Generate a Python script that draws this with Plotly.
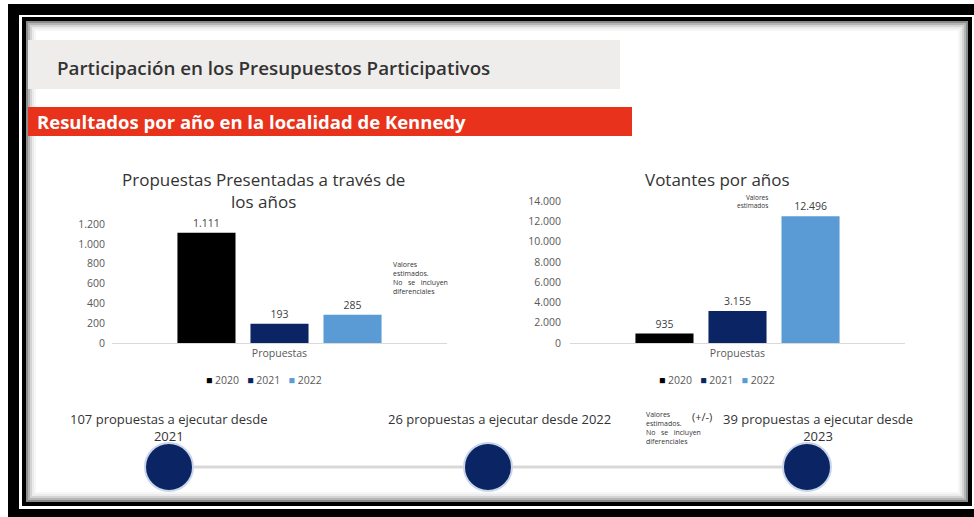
import plotly.graph_objects as go

# Datos
CATEGORIA = ['Propuestas']
ANIOS = ['2020', '2021', '2022']
PROPUESTAS = [1111, 193, 285]
VOTANTES = [935, 3155, 12496]
TIMELINE_ANIOS = ['2021', '2022', '2023']
TIMELINE_PROPUESTAS = [107, 26, 39]

COLORES = ['#000000', '#0b2463', '#5b9bd5']
TEXT_DARK = '#333333'
TEXT_AXIS = '#595959'
FONT = 'Open Sans'

W, H = 974, 517


def px(x):
    return x / W


def py(y):
    return 1 - y / H


def rect(x0, y0, x1, y1, **kw):
    return dict(type='rect', xref='paper', yref='paper', layer='below',
                x0=px(x0), x1=px(x1), y0=py(y1), y1=py(y0), **kw)


fig = go.Figure()

# --- Barras: propuestas presentadas ---
for anio, val, col in zip(ANIOS, PROPUESTAS, COLORES):
    fig.add_trace(go.Bar(
        x=CATEGORIA, y=[val], name=anio, marker_color=col, showlegend=False,
        texttemplate='%{y:,}', textposition='outside', cliponaxis=False,
        textfont=dict(size=10.5, color='#404040'),
        xaxis='x', yaxis='y',
    ))

# --- Barras: votantes ---
for anio, val, col in zip(ANIOS, VOTANTES, COLORES):
    fig.add_trace(go.Bar(
        x=CATEGORIA, y=[val], name=anio, marker_color=col, showlegend=False,
        texttemplate='%{y:,}', textposition='outside', cliponaxis=False,
        textfont=dict(size=10.5, color='#404040'),
        xaxis='x2', yaxis='y2',
    ))

# --- Línea de tiempo ---
fig.add_trace(go.Scatter(
    x=TIMELINE_ANIOS, y=[0.5] * len(TIMELINE_ANIOS),
    mode='lines+markers', showlegend=False, cliponaxis=False,
    line=dict(color='#d9d9d9', width=3),
    marker=dict(size=48, color='#0b2463', line=dict(color='#c9d6ea', width=2)),
    xaxis='x3', yaxis='y3', hoverinfo='skip',
))

axis_common = dict(showgrid=False, zeroline=False, ticks='', automargin=False,
                   tickfont=dict(size=10.5, color=TEXT_AXIS, family=FONT))

fig.update_layout(
    template='none',
    width=W, height=H, autosize=False,
    margin=dict(l=0, r=0, t=0, b=0, pad=0),
    paper_bgcolor='white', plot_bgcolor='rgba(0,0,0,0)',
    font=dict(family=FONT, color=TEXT_DARK),
    separators=',.',
    showlegend=False,
    barmode='group', bargap=0.346, bargroupgap=0.205,
    xaxis=dict(domain=[px(112), px(447)], anchor='y', showline=True, range=[-0.5, 0.5],
               linecolor='#d9d9d9', linewidth=1, **axis_common),
    yaxis=dict(domain=[py(343), py(224)], anchor='x', range=[0, 1200],
               dtick=200, tickformat=',', ticklabelstandoff=6, **axis_common),
    xaxis2=dict(domain=[px(570), px(905)], anchor='y2', showline=True, range=[-0.5, 0.5],
                linecolor='#d9d9d9', linewidth=1, **axis_common),
    yaxis2=dict(domain=[py(343), py(201)], anchor='x2', range=[0, 14000],
                dtick=2000, tickformat=',', ticklabelstandoff=8, **axis_common),
    xaxis3=dict(domain=[px(169), px(807)], anchor='y3', range=[0, 2],
                visible=False, type='category', automargin=False),
    yaxis3=dict(domain=[py(490), py(444)], anchor='x3', range=[0, 1],
                visible=False, automargin=False),
)

# --- Marco y fondos ---
shapes = [
    rect(8, 4, 980, 530, fillcolor='black', line_width=0),
    rect(19, 15, 980, 509, fillcolor='white', line_width=0),
    rect(24, 19, 970, 504, fillcolor='rgba(0,0,0,0)', line=dict(color='black', width=4)),
    rect(27, 22, 967, 501, fillcolor='rgba(0,0,0,0)', line=dict(color='#8c8c8c', width=2)),
    rect(29, 24, 965, 499, fillcolor='rgba(0,0,0,0)', line=dict(color='#b5b5b5', width=2)),
    rect(31, 26, 963, 497, fillcolor='rgba(0,0,0,0)', line=dict(color='#d4d4d4', width=2)),
    rect(33, 28, 961, 495, fillcolor='rgba(0,0,0,0)', line=dict(color='#ebebeb', width=2)),
    rect(35, 30, 959, 493, fillcolor='rgba(0,0,0,0)', line=dict(color='#f6f6f6', width=2)),
    rect(28, 40, 620, 89, fillcolor='#efedeb', line_width=0),
    rect(28, 107, 632, 136, fillcolor='#e8321b', line_width=0),
]
fig.update_layout(shapes=shapes)


def legend_text(anios, colores):
    parts = [f'<span style="color:{c}">■</span>&nbsp;{a}' for a, c in zip(anios, colores)]
    return '&nbsp;&nbsp;&nbsp;'.join(parts)


NOTA = ('Valores<br>estimados.<br>No&nbsp;&nbsp;&nbsp;se&nbsp;&nbsp;&nbsp;incluyen'
        '<br>diferenciales')

annotations = [
    dict(x=px(55), y=py(68), text='Participación en los Presupuestos Participativos',
         xanchor='left', font=dict(size=18.8, color='#333333', weight=600)),
    dict(x=px(35), y=py(121), text='Resultados por año en la localidad de Kennedy',
         xanchor='left', font=dict(size=18.5, color='white', weight=700)),
    dict(x=px(263), y=py(191), text='Propuestas Presentadas a través de<br>los años',
         xanchor='center', font=dict(size=17, color='#333333')),
    dict(x=px(717), y=py(179), text='Votantes por años',
         xanchor='center', font=dict(size=17, color='#333333')),
    dict(x=px(391), y=py(278), text=NOTA,
         xanchor='left', align='left', font=dict(size=7, color='#333333')),
    dict(x=px(770), y=py(201), text='Valores<br>estimados',
         xanchor='right', align='right', font=dict(size=6.5, color='#333333')),
    dict(x=px(644), y=py(428), text=NOTA,
         xanchor='left', align='left', font=dict(size=7, color='#333333')),
    dict(x=px(702), y=py(416), text='(+/-)', xanchor='center',
         font=dict(size=11, color='#333333')),
    dict(x=px(264), y=py(380), text=legend_text(ANIOS, COLORES), xanchor='center',
         font=dict(size=10.5, color=TEXT_AXIS)),
    dict(x=px(717), y=py(380), text=legend_text(ANIOS, COLORES), xanchor='center',
         font=dict(size=10.5, color=TEXT_AXIS)),
]
tl_text = [
    f'{TIMELINE_PROPUESTAS[0]} propuestas a ejecutar desde<br>{TIMELINE_ANIOS[0]}',
    f'{TIMELINE_PROPUESTAS[1]} propuestas a ejecutar desde {TIMELINE_ANIOS[1]}',
    f'{TIMELINE_PROPUESTAS[2]} propuestas a ejecutar desde<br>{TIMELINE_ANIOS[2]}',
]
for xc, txt in zip([169, 500, 818], tl_text):
    annotations.append(dict(
        x=px(xc), y=py(408), yanchor='top', text=txt,
        xanchor='center', align='center', font=dict(size=13, color='#333333')))

for a in annotations:
    a.setdefault('xref', 'paper')
    a.setdefault('yref', 'paper')
    a.setdefault('showarrow', False)
    a.setdefault('yanchor', 'middle')
fig.update_layout(annotations=annotations)

fig.write_html('out.html', config={'responsive': False, 'displayModeBar': False},
               post_script="document.body.style.margin='0';")
